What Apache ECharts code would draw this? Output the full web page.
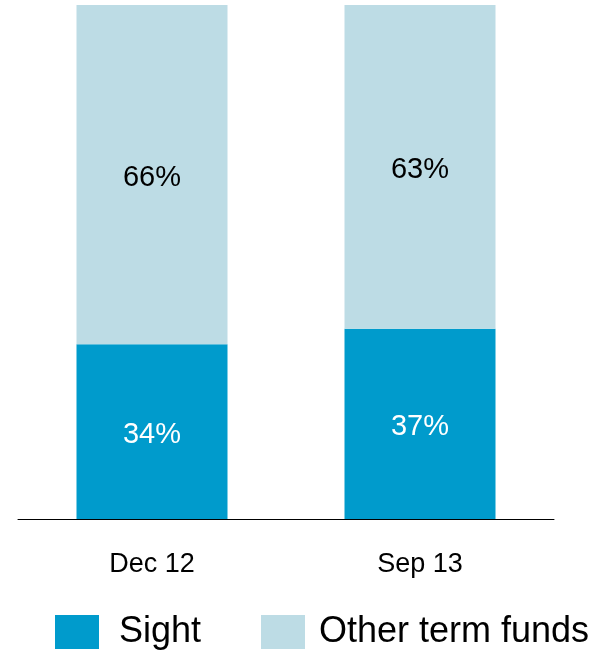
<!DOCTYPE html>
<html>
<head>
<meta charset="utf-8">
<style>
  html, body { margin: 0; padding: 0; background: #fff; }
  #chart { width: 610px; height: 652px; }
</style>
<script src="https://cdn.jsdelivr.net/npm/echarts@6/dist/echarts.min.js"></script>
</head>
<body>
<div id="chart"></div>
<script>
// Deposit mix by period (share of total, %)
const periods = ['Dec 12', 'Sep 13'];
const sight = [34, 37];
const otherTerm = [66, 63];

const seriesNames = ['Sight', 'Other term funds'];
const seriesColors = ['#009bcc', '#bddce5'];

const font = '"Liberation Sans", Arial, sans-serif';

const chart = echarts.init(document.getElementById('chart'), null, { renderer: 'canvas' });

const pct = p => p.value + '%';

const legendBase = {
  top: 614,
  padding: 0,
  itemWidth: 44, itemHeight: 34,
  icon: 'rect',
  selectedMode: false
};

chart.setOption({
  animation: false,
  backgroundColor: '#ffffff',
  grid: { left: 18, right: 56, top: 5, bottom: 133, containLabel: false },
  xAxis: {
    type: 'category',
    data: periods,
    axisLine: { show: true, lineStyle: { color: '#000', width: 1 } },
    axisTick: { show: false },
    axisLabel: { color: '#000', fontFamily: font, fontSize: 27, margin: 32 }
  },
  yAxis: {
    type: 'value', min: 0, max: 100, show: false,
    splitLine: { show: false }
  },
  legend: [
    Object.assign({}, legendBase, {
      data: [seriesNames[0]],
      left: 55,
      textStyle: { color: '#000', fontFamily: font, fontSize: 36, padding: [0, 0, 0, 15] }
    }),
    Object.assign({}, legendBase, {
      data: [seriesNames[1]],
      left: 261,
      textStyle: { color: '#000', fontFamily: font, fontSize: 36, padding: [0, 0, 0, 9] }
    })
  ],
  series: [
    {
      name: seriesNames[0],
      type: 'bar',
      stack: 'mix',
      data: sight,
      barWidth: 151,
      itemStyle: { color: seriesColors[0] },
      label: {
        show: true, position: 'inside', offset: [0, 3], formatter: pct,
        color: '#fff', fontFamily: font, fontSize: 29
      }
    },
    {
      name: seriesNames[1],
      type: 'bar',
      stack: 'mix',
      data: otherTerm,
      barWidth: 151,
      itemStyle: { color: seriesColors[1] },
      label: {
        show: true, position: 'inside', offset: [0, 3], formatter: pct,
        color: '#000', fontFamily: font, fontSize: 29
      }
    }
  ]
});
</script>
</body>
</html>
